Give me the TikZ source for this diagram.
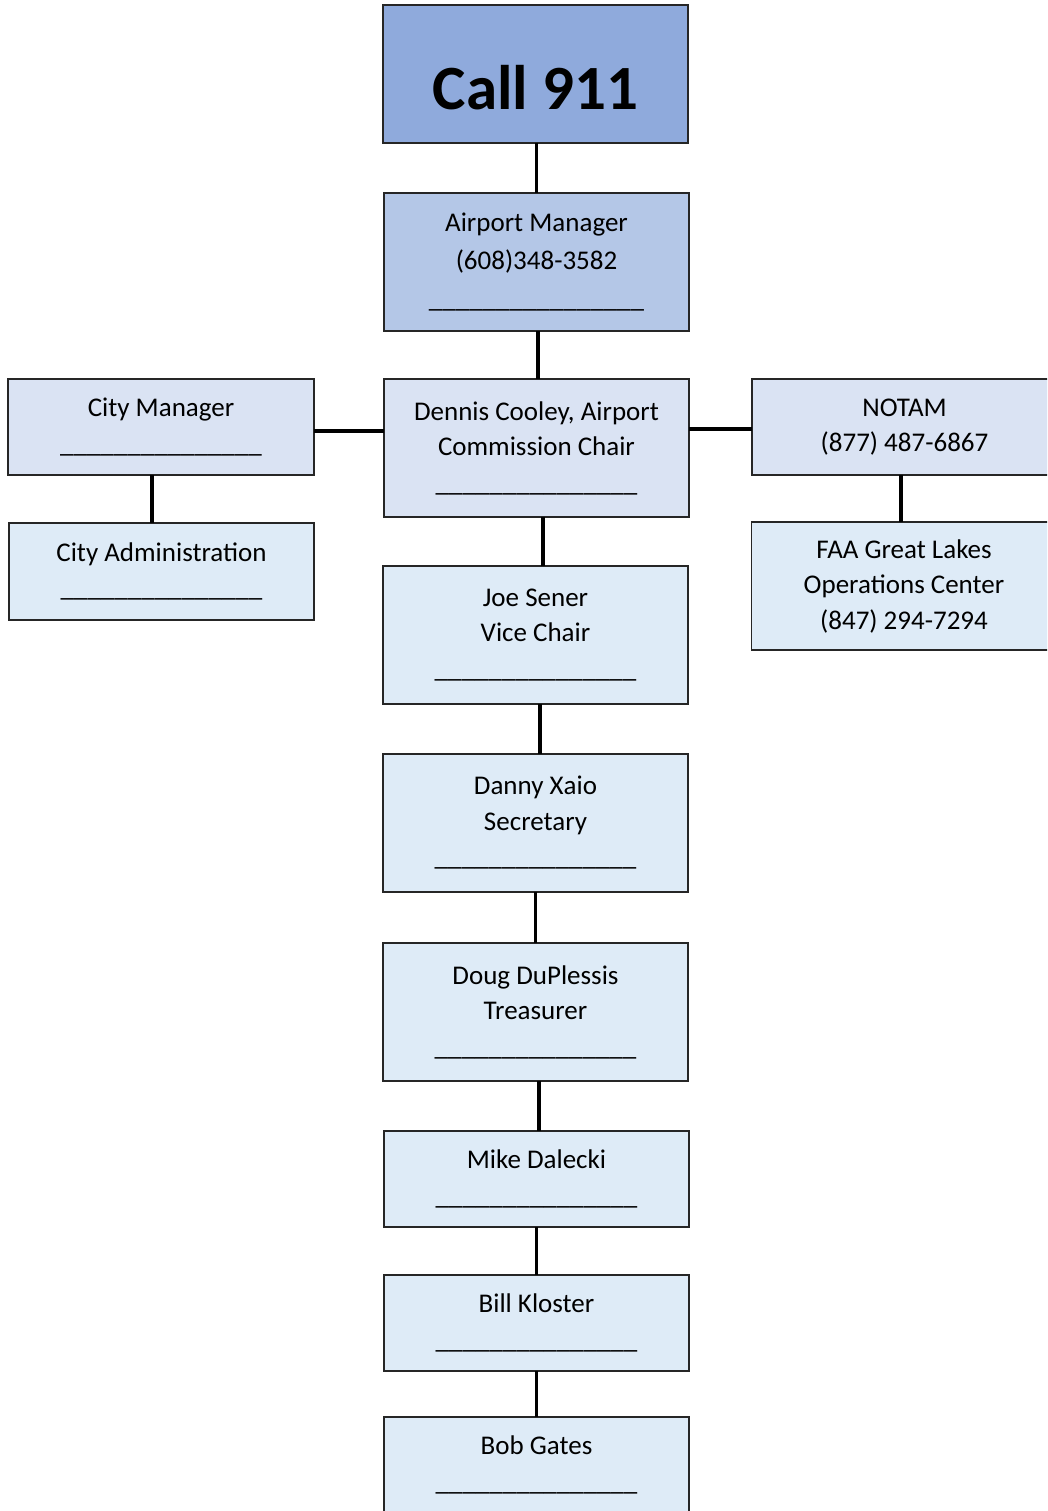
\documentclass[tikz,border=0pt]{standalone}
\usepackage{fontspec}
\setmainfont{Carlito}
\usepackage{tikz}
\definecolor{topblue}{HTML}{8FAADC}
\definecolor{midblue}{HTML}{B4C7E7}
\definecolor{paleblue}{HTML}{DAE3F3}
\definecolor{lightblue}{HTML}{DEEBF7}
\newcommand{\blankline}{\_\_\_\_\_\_\_\_\_\_\_\_\_\_\_}

\begin{document}
\begin{tikzpicture}[x=1pt, y=-1pt,
  box/.style={draw=black!85, line width=1.2pt, inner sep=0pt, outer sep=0pt,
    minimum width=305pt, align=center, font=\fontsize{27}{35.5}\selectfont},
  tall/.style={box, minimum height=138pt},
  short/.style={box, minimum height=96pt},
  link/.style={line width=3.7pt, black}]
\useasboundingbox (0,0) rectangle (1047,1511);
\clip (0,0) rectangle (1047,1511);
\node[tall, fill=topblue, font=\fontsize{63}{70}\selectfont\bfseries] (call) at (535.5,74) {\raisebox{-36pt}[0pt][0pt]{Call 911}};
\node[tall, fill=midblue, font=\fontsize{27}{38}\selectfont] (am) at (536.5,262) {Airport Manager\\(608)348-3582\\\_\_\_\_\_\_\_\_\_\_\_\_\_\_\_\_};
\node[tall, fill=paleblue] (chair) at (536.5,448) {Dennis Cooley, Airport\\Commission Chair\\\blankline};
\node[short, fill=paleblue, minimum width=306pt] (citymgr) at (161,427) {City Manager\\\blankline};
\node[short, fill=lightblue, minimum height=97pt] (cityadm) at (161.5,571.5) {City Administration\\\blankline};
\node[short, fill=paleblue] (notam) at (904.5,427) {NOTAM\\(877) 487-6867};
\node[box, fill=lightblue, minimum height=128pt] (faa) at (904,586) {FAA Great Lakes\\Operations Center\\(847) 294-7294};
\node[tall, fill=lightblue] (joe) at (535.5,635) {Joe Sener\\Vice Chair\\\blankline};
\node[tall, fill=lightblue] (danny) at (535.5,823) {Danny Xaio\\Secretary\\\blankline};
\node[tall, fill=lightblue] (doug) at (535.5,1012) {Doug DuPlessis\\Treasurer\\\blankline};
\node[short, fill=lightblue] (mike) at (536.5,1179) {Mike Dalecki\\\blankline};
\node[short, fill=lightblue] (bill) at (536.5,1323) {Bill Kloster\\\blankline};
\node[short, fill=lightblue] (bob) at (536.5,1465) {Bob Gates\\\blankline};

\draw[link] ([xshift=1pt]call.south) -- ([xshift=1pt]call.south |- am.north);
\draw[link] ([xshift=1.5pt]am.south) -- ([xshift=1.5pt]am.south |- chair.north);
\draw[link] ([yshift=-4pt]citymgr.east) -- ([yshift=-4pt]citymgr.east -| chair.west);
\draw[link] ([yshift=-2pt]notam.west) -- ([yshift=-2pt]notam.west -| chair.east);
\draw[link] ([xshift=-9pt]citymgr.south) -- ([xshift=-9pt]citymgr.south |- cityadm.north);
\draw[link] ([xshift=-3.5pt]notam.south) -- ([xshift=-3.5pt]notam.south |- faa.north);
\draw[link] ([xshift=6.5pt]chair.south) -- ([xshift=6.5pt]chair.south |- joe.north);
\draw[link] ([xshift=4.5pt]joe.south) -- ([xshift=4.5pt]joe.south |- danny.north);
\draw[link] (danny.south) -- (doug.north);
\draw[link] ([xshift=3.5pt]doug.south) -- ([xshift=3.5pt]doug.south |- mike.north);
\draw[link] (mike.south) -- (bill.north);
\draw[link] (bill.south) -- (bob.north);
\end{tikzpicture}
\end{document}
